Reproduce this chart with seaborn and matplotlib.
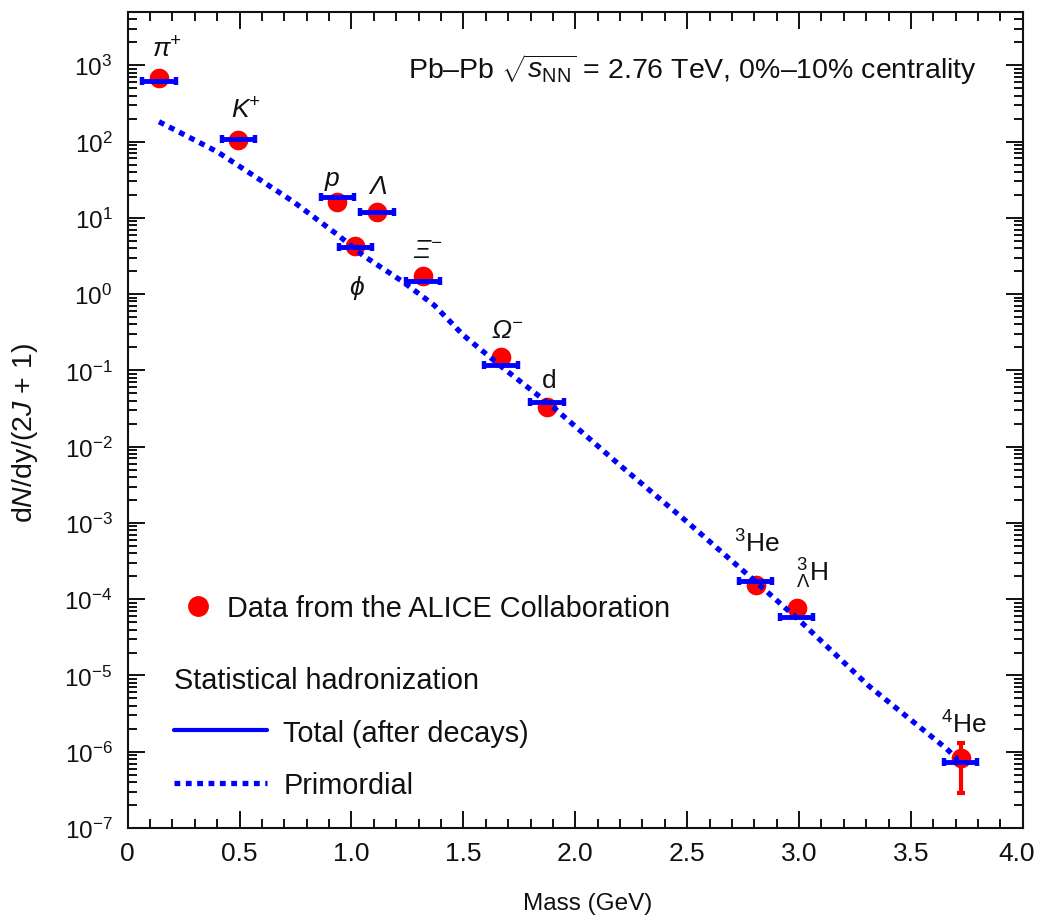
import numpy as np
import matplotlib
matplotlib.use("Agg")
import matplotlib.pyplot as plt
import matplotlib.transforms as mtransforms
import seaborn as sns
from matplotlib.lines import Line2D
from matplotlib.ticker import LogLocator, MultipleLocator, NullFormatter

# Light-flavour hadron and nucleus yields, Pb-Pb 2.76 TeV, 0-10% centrality
particle_labels = ["π$^{+}$", "K$^{+}$", "p", "Λ", "ϕ", "Ξ$^{-}$", "Ω$^{-}$",
                   "d", "$^{3}$He", "${}^{3}_{\\Lambda}$H", "$^{4}$He"]
particle_italic = [True, True, True, True, True, True, True,
                   False, False, False, False]
mass = [0.140, 0.495, 0.937, 1.114, 1.018, 1.319, 1.668, 1.874, 2.806, 2.989, 3.722]
data_yield = [675, 105, 16.3, 12.0, 4.26, 1.74, 0.150, 0.0332,
              1.55e-4, 7.6e-5, 8.2e-7]
he4_yield_low = 2.9e-7
he4_yield_high = 1.3e-6

# Statistical hadronization: total yields after decays
model_yield = [622, 108, 18.9, 12.0, 4.18, 1.48, 0.119, 0.0385,
               1.73e-4, 5.9e-5, 7.3e-7]

# Statistical hadronization: primordial yields
primordial_mass = [0.14, 0.40, 0.74, 0.94, 1.05, 1.23, 1.37, 1.50, 1.68,
                   1.90, 2.20, 2.50, 2.80, 3.01, 3.31, 3.66, 3.72]
primordial_yield = [182, 73.6, 16.3, 5.93, 3.24, 1.45, 0.714, 0.289, 0.106,
                    0.0332, 5.69e-3, 1.03e-3, 1.76e-4, 5.0e-5, 7.36e-6,
                    1.09e-6, 7.35e-7]

x_tick_values = [0, 0.5, 1.0, 1.5, 2.0, 2.5, 3.0, 3.5, 4.0]
x_tick_labels = ["0", "0.5", "1.0", "1.5", "2.0", "2.5", "3.0", "3.5", "4.0"]

sns.set_theme(style="ticks")
plt.rcParams["font.family"] = ["Liberation Sans", "DejaVu Sans"]
plt.rcParams["mathtext.fontset"] = "custom"
plt.rcParams["mathtext.rm"] = "Liberation Sans"
plt.rcParams["mathtext.it"] = "Liberation Sans:italic"
plt.rcParams["mathtext.bf"] = "Liberation Sans:bold"
plt.rcParams["mathtext.default"] = "regular"

TEXT = "#111111"
RED = "#ff0000"
BLUE = "#0000ff"
DOTS = (0, (1.1, 1.05))
LEG_FS = 20.8

fig = plt.figure(figsize=(10.38, 9.2), dpi=100)
ax = fig.add_axes([0.123, 0.0989, 0.8624, 0.887])

# primordial curve
sns.lineplot(x=primordial_mass, y=primordial_yield, ax=ax, color=BLUE,
             linewidth=3.8, linestyle=DOTS, dash_capstyle="butt",
             sort=False, estimator=None, legend=False, zorder=3)

# measured yields
sns.scatterplot(x=mass, y=data_yield, ax=ax, color=RED, s=200,
                linewidth=0, legend=False, zorder=2)
ax.errorbar([mass[-1]], [data_yield[-1]],
            yerr=[[data_yield[-1] - he4_yield_low],
                  [he4_yield_high - data_yield[-1]]],
            fmt="none", ecolor=RED, elinewidth=3, capsize=3, capthick=3,
            zorder=3)

# model totals as short horizontal bars
ax.errorbar(mass, model_yield, xerr=0.075, fmt="none", ecolor=BLUE,
            elinewidth=3.5, capsize=3.0, capthick=3.2, zorder=4)

# particle names
label_offsets = [(5.5, 15.6), (5.5, 16.1), (-4.2, 12.0), (0.4, 13.2),
                 (0.4, -34.6), (3.6, 13.7), (4.3, 14.4), (1.2, 14.4),
                 (0.7, 23.5), (11.3, 19.9), (2.4, 18.7)]
for lab, it, m, y, off in zip(particle_labels, particle_italic, mass,
                              data_yield, label_offsets):
    ax.annotate(lab, xy=(m, y), xytext=off, textcoords="offset points",
                ha="center", va="baseline", fontsize=19, color=TEXT,
                fontstyle="italic" if it else "normal")

ax.set_yscale("log")
ax.set_xlim(0, 4.0)
ax.set_ylim(1e-7, 5e3)

ax.set_xticks(x_tick_values)
ax.set_xticklabels(x_tick_labels)
ax.xaxis.set_minor_locator(MultipleLocator(0.1))
ax.yaxis.set_major_locator(LogLocator(base=10, numticks=20))
ax.yaxis.set_minor_locator(LogLocator(base=10, subs=np.arange(2, 10), numticks=200))
ax.yaxis.set_minor_formatter(NullFormatter())

for sp in ax.spines.values():
    sp.set_linewidth(1.5)
    sp.set_color(TEXT)
    sp.set_visible(True)

ax.tick_params(which="both", direction="in", top=True, right=True,
               color=TEXT, width=1.4)
ax.tick_params(which="major", length=12)
ax.tick_params(which="minor", length=6.5)
ax.tick_params(axis="x", which="major", labelsize=19, pad=9, labelcolor=TEXT)
ax.tick_params(axis="y", which="major", labelsize=17.5, pad=11, labelcolor=TEXT)

# keep the last x label inside the figure
last = ax.get_xticklabels()[-1]
last.set_transform(last.get_transform() +
                   mtransforms.ScaledTranslation(-6 / 100, 0, fig.dpi_scale_trans))

ax.set_xlabel("Mass (GeV)", fontsize=17.5, color=TEXT)
ax.xaxis.set_label_coords(0.514, -0.078)
ax.set_ylabel("d$\\mathit{N}$/dy/(2$\\mathit{J}$ + 1)", fontsize=20.5, color=TEXT)
ax.yaxis.set_label_coords(-0.098, 0.485)

ax.text(0.3132, 0.919,
        "Pb–Pb $\\sqrt{\\mathit{s}_{\\mathrm{NN}}}$ = 2.76 TeV, 0%–10% centrality",
        transform=ax.transAxes, ha="left", va="baseline", fontsize=20.5,
        color=TEXT)

# legends
data_handle = Line2D([], [], marker="o", color=RED, linestyle="none",
                     markersize=14)
leg1 = ax.legend([data_handle], ["Data from the ALICE Collaboration"],
                 loc="center left", bbox_to_anchor=(0.0622, 0.2697),
                 frameon=False, fontsize=LEG_FS, handlelength=1.0,
                 handletextpad=0.5, borderpad=0, borderaxespad=0,
                 labelcolor=TEXT)
ax.add_artist(leg1)

model_handles = [Line2D([], [], color=BLUE, linewidth=3),
                 Line2D([], [], color=BLUE, linewidth=3.8, linestyle=DOTS,
                        dash_capstyle="butt")]
leg2 = ax.legend(model_handles, ["Total (after decays)", "Primordial"],
                 title="Statistical hadronization", title_fontsize=LEG_FS,
                 alignment="left", loc="center left",
                 bbox_to_anchor=(0.0520, 0.1170), frameon=False, fontsize=LEG_FS,
                 handlelength=3.2, handletextpad=0.58, labelspacing=0.86,
                 borderpad=0, borderaxespad=0, labelcolor=TEXT)
leg2.get_title().set_color(TEXT)

fig.savefig("out.png", dpi=100)
